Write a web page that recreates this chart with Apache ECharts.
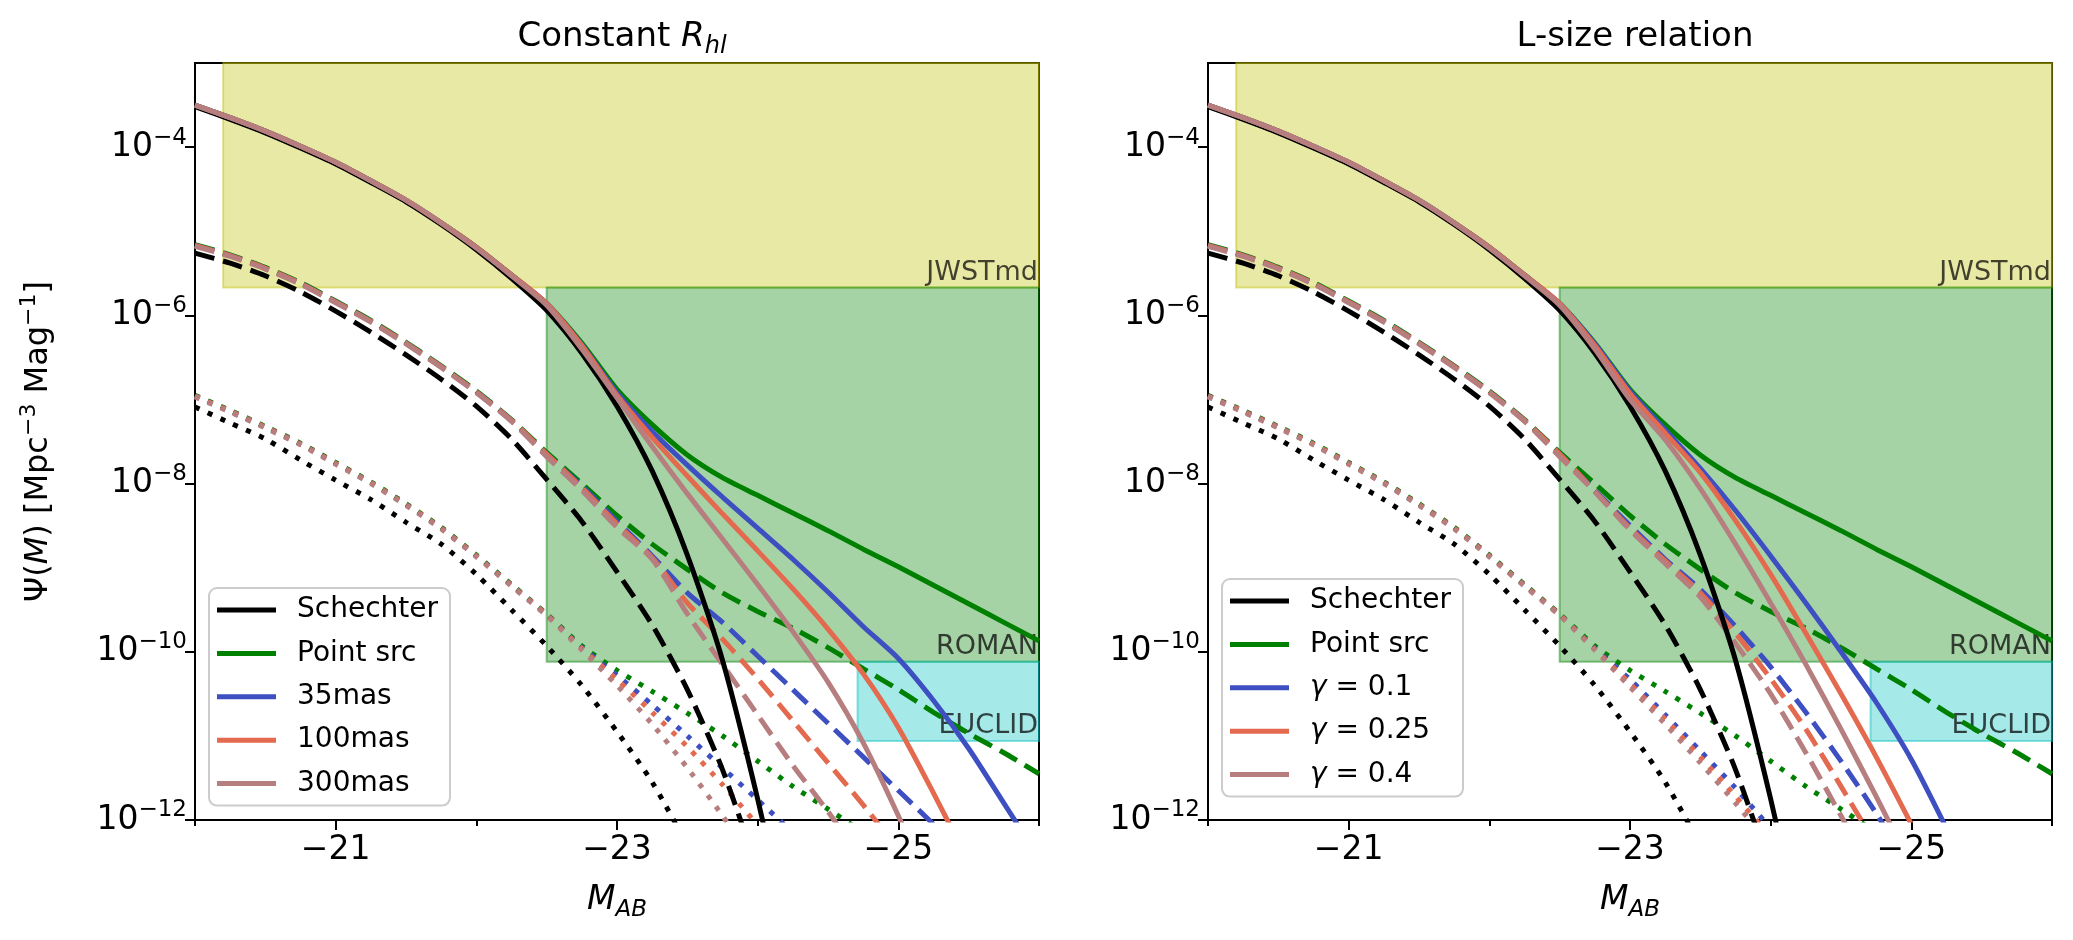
<!DOCTYPE html>
<html>
<head>
<meta charset="utf-8">
<title>Luminosity function vs survey limits</title>
<script src="https://cdn.jsdelivr.net/npm/echarts@6.0.0/dist/echarts.min.js"></script>
<style>
body { margin: 0; background: #fff; }
#chart { width: 2073px; height: 940px; }
</style>
</head>
<body>
<div id="chart"></div>
<script>
var MAG = [-20, -20.25, -20.5, -20.75, -21, -21.25, -21.5, -21.75, -22, -22.25, -22.5, -22.75,
	-23, -23.25, -23.5, -23.75, -24, -24.25, -24.5, -24.75, -25, -25.25, -25.5, -25.75, -26];

// log10 Psi(M); null = off the bottom of the plot
// solid
var schechter = [-3.52,-3.67,-3.83,-4.01,-4.20,-4.42,-4.65,-4.92,-5.22,-5.56,-5.94,-6.45,-7.08,-7.85,-8.85,-10.1,-11.75,-13.6,null,null,null,null,null,null,null];
var pointSrc  = [-3.50,-3.65,-3.81,-3.99,-4.18,-4.40,-4.63,-4.90,-5.19,-5.52,-5.86,-6.33,-6.88,-7.30,-7.66,-7.93,-8.14,-8.35,-8.56,-8.78,-8.99,-9.21,-9.43,-9.65,-9.87];
var r35       = [-3.50,-3.65,-3.81,-3.99,-4.18,-4.40,-4.63,-4.90,-5.19,-5.52,-5.86,-6.35,-6.92,-7.38,-7.78,-8.16,-8.53,-8.90,-9.29,-9.70,-10.08,-10.58,-11.15,-11.8,-12.45];
var r100      = [-3.50,-3.65,-3.81,-3.99,-4.18,-4.40,-4.63,-4.90,-5.19,-5.52,-5.86,-6.36,-6.95,-7.45,-7.91,-8.36,-8.80,-9.25,-9.73,-10.26,-10.9,-11.68,-12.5,null,null];
var r300      = [-3.50,-3.65,-3.81,-3.99,-4.18,-4.40,-4.63,-4.90,-5.20,-5.53,-5.88,-6.40,-6.98,-7.56,-8.12,-8.66,-9.20,-9.76,-10.36,-11.08,-11.95,-12.9,null,null,null];
var g01       = [-3.50,-3.65,-3.81,-3.99,-4.18,-4.40,-4.63,-4.90,-5.19,-5.52,-5.86,-6.34,-6.90,-7.36,-7.82,-8.32,-8.86,-9.42,-10.0,-10.6,-11.28,-12.1,null,null,null];
var g025      = [-3.50,-3.65,-3.81,-3.99,-4.18,-4.40,-4.63,-4.90,-5.19,-5.52,-5.86,-6.36,-6.93,-7.40,-7.87,-8.44,-9.08,-9.78,-10.5,-11.25,-12.05,null,null,null,null];
var g04       = [-3.50,-3.65,-3.81,-3.99,-4.18,-4.40,-4.63,-4.90,-5.20,-5.53,-5.88,-6.40,-7.00,-7.48,-8.06,-8.72,-9.42,-10.15,-10.92,-11.72,-12.55,null,null,null,null];
// dashed
var schechterD = [-5.26,-5.38,-5.53,-5.72,-5.95,-6.20,-6.47,-6.76,-7.08,-7.47,-7.95,-8.45,-9.05,-9.68,-10.45,-11.4,-12.6,null,null,null,null,null,null,null,null];
var pointSrcD  = [-5.16,-5.28,-5.43,-5.61,-5.83,-6.06,-6.32,-6.60,-6.90,-7.24,-7.63,-8.00,-8.38,-8.72,-9.02,-9.30,-9.52,-9.72,-9.95,-10.2,-10.45,-10.72,-10.97,-11.2,-11.45];
var r35D       = [-5.17,-5.29,-5.44,-5.62,-5.84,-6.07,-6.33,-6.61,-6.91,-7.25,-7.65,-8.03,-8.45,-8.86,-9.30,-9.65,-10.05,-10.45,-10.85,-11.25,-11.65,-12.05,null,null,null];
var r100D      = [-5.17,-5.29,-5.44,-5.62,-5.84,-6.07,-6.33,-6.61,-6.91,-7.25,-7.65,-8.05,-8.48,-8.88,-9.42,-9.85,-10.32,-10.82,-11.32,-11.82,-12.35,null,null,null,null];
var r300D      = [-5.18,-5.30,-5.45,-5.63,-5.85,-6.08,-6.34,-6.62,-6.92,-7.26,-7.68,-8.08,-8.52,-8.90,-9.55,-10.15,-10.75,-11.35,-11.9,-12.5,null,null,null,null,null];
var g01D       = [-5.17,-5.29,-5.44,-5.62,-5.84,-6.07,-6.33,-6.61,-6.91,-7.25,-7.65,-8.08,-8.50,-8.90,-9.26,-9.70,-10.18,-10.72,-11.3,-11.92,-12.6,null,null,null,null];
var g025D      = [-5.17,-5.29,-5.44,-5.62,-5.84,-6.07,-6.33,-6.61,-6.91,-7.25,-7.65,-8.09,-8.53,-8.92,-9.30,-9.78,-10.32,-10.92,-11.6,-12.3,null,null,null,null,null];
var g04D       = [-5.18,-5.30,-5.45,-5.63,-5.85,-6.08,-6.34,-6.62,-6.92,-7.26,-7.68,-8.10,-8.55,-8.95,-9.35,-9.90,-10.5,-11.2,-11.95,-12.7,null,null,null,null,null];
// dotted
var schechterDot = [-7.09,-7.28,-7.47,-7.72,-7.96,-8.19,-8.46,-8.72,-9.08,-9.50,-9.93,-10.4,-10.95,-11.55,-12.3,null,null,null,null,null,null,null,null,null,null];
var pointSrcDot  = [-6.95,-7.13,-7.32,-7.52,-7.75,-7.98,-8.24,-8.52,-8.85,-9.20,-9.55,-9.93,-10.22,-10.47,-10.73,-11.0,-11.3,-11.6,-11.87,-12.15,null,null,null,null,null];
var r35Dot       = [-6.96,-7.14,-7.33,-7.53,-7.76,-7.99,-8.25,-8.53,-8.86,-9.21,-9.56,-9.95,-10.28,-10.63,-11.0,-11.38,-11.76,-12.15,null,null,null,null,null,null,null];
var r100Dot      = [-6.96,-7.14,-7.33,-7.53,-7.76,-7.99,-8.25,-8.53,-8.86,-9.21,-9.56,-9.96,-10.33,-10.72,-11.13,-11.58,-12.06,null,null,null,null,null,null,null,null];
var r300Dot      = [-6.97,-7.15,-7.34,-7.54,-7.77,-8.00,-8.26,-8.54,-8.87,-9.22,-9.57,-9.98,-10.40,-10.86,-11.38,-11.95,-12.55,null,null,null,null,null,null,null,null];
var g01Dot       = [-6.96,-7.14,-7.33,-7.53,-7.76,-7.99,-8.25,-8.53,-8.86,-9.21,-9.56,-9.96,-10.33,-10.75,-11.18,-11.62,-12.1,null,null,null,null,null,null,null,null];
var g025Dot      = [-6.96,-7.14,-7.33,-7.53,-7.76,-7.99,-8.25,-8.53,-8.86,-9.21,-9.56,-9.97,-10.38,-10.8,-11.25,-11.72,-12.2,null,null,null,null,null,null,null,null];
var g04Dot       = [-6.97,-7.15,-7.34,-7.54,-7.77,-8.00,-8.26,-8.54,-8.87,-9.22,-9.57,-9.98,-10.42,-10.86,-11.32,-11.8,-12.3,null,null,null,null,null,null,null,null];

// survey depth boxes (log10 Psi limits, magnitude range)
var surveys         = ['JWSTmd', 'ROMAN', 'EUCLID'];
var surveyMagFrom   = [-20.2, -22.5, -24.71];
var surveyMagTo     = [-26, -26, -26];
var surveyLogTop    = [-3, -5.67, -10.12];
var surveyLogBottom = [-5.67, -10.12, -11.06];

var xMajor = [-25, -23, -21];
var xMinor = [-26, -24, -22, -20];
var yMajor = [-12, -10, -8, -6, -4];

var leftNames  = ['Schechter', 'Point src', '35mas', '100mas', '300mas'];
var rightNames = ['Schechter', 'Point src', '\u03b3 = 0.1', '\u03b3 = 0.25', '\u03b3 = 0.4'];

var FONT = 'DejaVu Sans';
var COLORS = ['#000000', '#008000', '#3d4fc1', '#e3694f', '#b67e7e'];
var FILLS = ['rgba(191,191,0,0.35)', 'rgba(0,128,0,0.35)', 'rgba(0,191,191,0.35)'];
var EDGES = ['rgba(191,191,0,0.45)', 'rgba(0,128,0,0.45)', 'rgba(0,191,191,0.45)'];
var LW = 5;

var my_chart = echarts.init(document.getElementById('chart'));

function pts(arr)
{
	var out = [];
	for (var i = 0; i < MAG.length; ++i)
		if (arr[i] !== null)
			out.push([MAG[i], arr[i]]);
	return out;
}

function curve(name, arr, color, dash, panel)
{
	return {
		name: name,
		type: 'line',
		xAxisIndex: panel * 2,
		yAxisIndex: panel,
		data: pts(arr),
		symbol: 'none',
		smooth: 0.25,
		silent: true,
		z: 3,
		lineStyle: { color: color, width: LW, type: dash, cap: 'butt' },
		itemStyle: { color: color }
	};
}

function areas()
{
	var out = [];
	for (var i = 0; i < surveys.length; ++i)
		out.push([
			{
				name: surveys[i], xAxis: surveyMagFrom[i], yAxis: surveyLogTop[i],
				itemStyle: { color: FILLS[i], borderColor: EDGES[i], borderWidth: 2 },
				label: { show: true, position: 'insideBottomRight', distance: 2,
					color: 'rgba(0,0,0,0.72)', fontSize: 27, fontFamily: FONT }
			},
			{ xAxis: surveyMagTo[i], yAxis: surveyLogBottom[i] }
		]);
	return out;
}

function xAxes(panel)
{
	return [{
		type: 'value', gridIndex: panel, min: -26, max: -20, inverse: true, position: 'bottom',
		name: '{i|M}{s|AB}', nameLocation: 'middle', nameGap: 58,
		nameTextStyle: { color: '#000', fontFamily: FONT, fontSize: 33,
			rich: { i: { fontStyle: 'italic', fontSize: 33, fontFamily: FONT, lineHeight: 44, color: '#000' },
				s: { fontStyle: 'italic', fontSize: 23, fontFamily: FONT, lineHeight: 23, verticalAlign: 'bottom', color: '#000' } } },
		axisLine: { show: true, lineStyle: { color: '#000', width: 2 } },
		axisTick: { show: true, customValues: xMajor, length: 10, lineStyle: { color: '#000', width: 2 } },
		axisLabel: { show: true, customValues: xMajor, margin: 14, color: '#000', fontSize: 33, fontFamily: FONT,
			formatter: function (v) { return '\u2212' + Math.abs(v); } },
		splitLine: { show: false }
	}, {
		type: 'value', gridIndex: panel, min: -26, max: -20, inverse: true, position: 'bottom',
		axisLine: { show: false },
		axisTick: { show: true, customValues: xMinor, length: 6, lineStyle: { color: '#000', width: 2 } },
		axisLabel: { show: false },
		splitLine: { show: false }
	}];
}

function yAxis(panel)
{
	var ax = {
		type: 'value', gridIndex: panel, min: -12, max: -3,
		axisLine: { show: true, lineStyle: { color: '#000', width: 2 } },
		axisTick: { show: true, customValues: yMajor, length: 10, lineStyle: { color: '#000', width: 2 } },
		axisLabel: { show: true, customValues: yMajor, margin: 8,
			formatter: function (v) { return '{b|10}{s|\u2212' + Math.abs(v) + '}'; },
			rich: { b: { fontSize: 33, fontFamily: FONT, lineHeight: 42, color: '#000' },
				s: { fontSize: 23, fontFamily: FONT, lineHeight: 23, verticalAlign: 'top', color: '#000' } } },
		splitLine: { show: false }
	};
	if (panel == 0)
	{
		ax.name = '{t|\u03a8(}{i|M}{t|) [Mpc}{p|\u22123}{t| Mag}{p|\u22121}{t|]}';
		ax.nameLocation = 'middle';
		ax.nameGap = 135;
		ax.nameRotate = 90;
		ax.nameTextStyle = { color: '#000', fontFamily: FONT, fontSize: 32,
			rich: { t: { fontSize: 32, fontFamily: FONT, lineHeight: 42, color: '#000' },
				i: { fontSize: 32, fontFamily: FONT, fontStyle: 'italic', lineHeight: 42, color: '#000' },
				p: { fontSize: 22, fontFamily: FONT, lineHeight: 22, verticalAlign: 'top', color: '#000' } } };
	}
	return ax;
}

function legend(names, left, top)
{
	return {
		data: names, orient: 'vertical', left: left, top: top,
		icon: 'rect', itemWidth: 59, itemHeight: LW, itemGap: 13.4,
		padding: [7, 12, 7, 8],
		backgroundColor: 'rgba(255,255,255,0.8)', borderColor: '#cccccc', borderWidth: 2, borderRadius: 8,
		selectedMode: false,
		textStyle: { color: '#000', fontSize: 28, lineHeight: 30, fontFamily: FONT, padding: [0, 0, 0, 16],
			rich: { g: { fontStyle: 'italic', fontSize: 28, lineHeight: 30, fontFamily: FONT, color: '#000' } } },
		formatter: function (name) {
			return name.charAt(0) == '\u03b3' ? '{g|\u03b3}' + name.substr(1) : name;
		}
	};
}

function main()
{
	var series = [];
	var sets = [
		{ solid: [schechter, pointSrc, r35, r100, r300], dash: [schechterD, pointSrcD, r35D, r100D, r300D],
		  dot: [schechterDot, pointSrcDot, r35Dot, r100Dot, r300Dot], names: leftNames },
		{ solid: [schechter, pointSrc, g01, g025, g04], dash: [schechterD, pointSrcD, g01D, g025D, g04D],
		  dot: [schechterDot, pointSrcDot, g01Dot, g025Dot, g04Dot], names: rightNames }
	];

	for (var p = 0; p < 2; ++p)
	{
		series.push({
			type: 'line', xAxisIndex: p * 2, yAxisIndex: p, data: [], z: 1, silent: true,
			markArea: { silent: true, data: areas() }
		});
		var s = sets[p];
		for (var k = 0; k < 5; ++k)
			series.push(curve(s.names[k] + ' dotted', s.dot[k], COLORS[k], [5, 9], p));
		for (var k = 0; k < 5; ++k)
			series.push(curve(s.names[k] + ' dashed', s.dash[k], COLORS[k], [20, 9], p));
		for (var k = 0; k < 5; ++k)
			series.push(curve(s.names[k], s.solid[k], COLORS[k], 'solid', p));
	}

	var titleStyle = { color: '#000', fontFamily: FONT, fontSize: 34, fontWeight: 'normal', lineHeight: 44,
		rich: { i: { fontStyle: 'italic', fontSize: 34, fontFamily: FONT, fontWeight: 'normal', lineHeight: 44, color: '#000' },
			s: { fontStyle: 'italic', fontSize: 24, fontFamily: FONT, fontWeight: 'normal', lineHeight: 24, verticalAlign: 'bottom', color: '#000' } } };

	var option = {
		animation: false,
		backgroundColor: '#ffffff',
		title: [
			{ text: 'Constant {i|R}{s|hl}', left: 617, top: 10, textAlign: 'center', textStyle: titleStyle },
			{ text: 'L-size relation', left: 1630, top: 10, textAlign: 'center', textStyle: titleStyle }
		],
		grid: [
			{ left: 195, top: 63, width: 844, height: 757, show: true, borderColor: '#000', borderWidth: 2, backgroundColor: '#fff', outerBoundsMode: 'none' },
			{ left: 1208, top: 63, width: 844, height: 757, show: true, borderColor: '#000', borderWidth: 2, backgroundColor: '#fff', outerBoundsMode: 'none' }
		],
		xAxis: xAxes(0).concat(xAxes(1)),
		yAxis: [yAxis(0), yAxis(1)],
		legend: [legend(leftNames, 209, 588), legend(rightNames, 1222, 579)],
		series: series
	};

	my_chart.setOption(option);
}

main();
</script>
</body>
</html>
